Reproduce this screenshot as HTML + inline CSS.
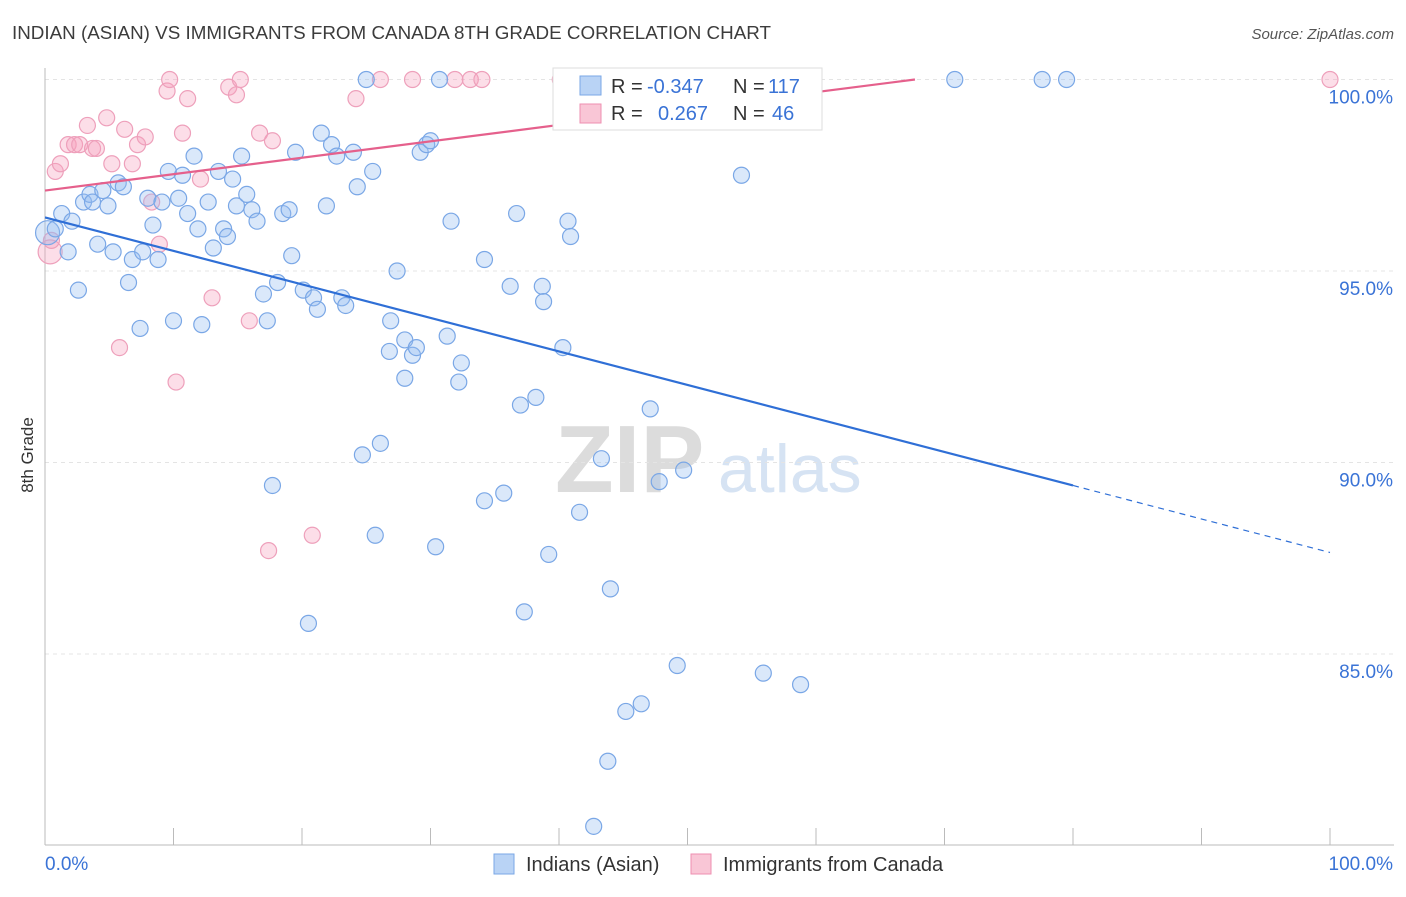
<!DOCTYPE html>
<html><head><meta charset="utf-8">
<style>
body{margin:0;background:#fff;font-family:"Liberation Sans",sans-serif;}
svg text{font-family:"Liberation Sans",sans-serif;}
</style></head>
<body>
<svg id="chart" width="1406" height="892" viewBox="0 0 1406 892" xmlns="http://www.w3.org/2000/svg">
<text x="12" y="39" font-size="18" fill="#3c3c3c" textLength="759" lengthAdjust="spacingAndGlyphs">INDIAN (ASIAN) VS IMMIGRANTS FROM CANADA 8TH GRADE CORRELATION CHART</text>
<text x="1394" y="39" font-size="15" fill="#555" text-anchor="end" font-style="italic">Source: ZipAtlas.com</text>
<g>
<text x="555" y="492" font-size="96" fill="#dcdcdc" font-family="Liberation Serif" font-weight="bold">ZIP</text>
<text x="718" y="492" font-size="68" fill="#d6e3f3">atlas</text>
</g>
<g id="grid"></g>
<g id="axes"></g>
<g id="marks"></g>
<text transform="translate(33,455) rotate(-90)" font-size="17" fill="#333" text-anchor="middle">8th Grade</text>
<g>
<rect x="553" y="68" width="269" height="62" fill="#fff" stroke="#ddd"/>
<rect x="580" y="76" width="21" height="19" fill="#b9d3f5" stroke="#7aa7e6"/>
<rect x="580" y="104" width="21" height="19" fill="#f9c6d6" stroke="#ee8fb0"/>
<text x="611" y="93" font-size="20" fill="#333">R =</text>
<text x="647" y="93" font-size="20" fill="#3a73d6">-0.347</text>
<text x="733" y="93" font-size="20" fill="#333">N =</text>
<text x="768" y="93" font-size="20" fill="#3a73d6">117</text>
<text x="611" y="120" font-size="20" fill="#333">R =</text>
<text x="658" y="120" font-size="20" fill="#3a73d6">0.267</text>
<text x="733" y="120" font-size="20" fill="#333">N =</text>
<text x="772" y="120" font-size="20" fill="#3a73d6">46</text>
</g>
<g>
<rect x="494" y="854" width="20" height="20" fill="#b9d3f5" stroke="#7aa7e6"/>
<text x="526" y="871" font-size="20" fill="#333">Indians (Asian)</text>
<rect x="691" y="854" width="20" height="20" fill="#f9c6d6" stroke="#ee8fb0"/>
<text x="723" y="871" font-size="20" fill="#333">Immigrants from Canada</text>
</g>
</svg>
<script>
const blueX=[0.2,0.8,1.3,1.8,2.1,2.6,3.0,3.5,3.7,4.1,4.5,4.9,5.3,5.7,6.1,6.5,6.8,7.4,7.6,8.0,8.4,8.8,9.1,9.6,10.0,10.4,10.7,11.1,11.6,11.9,12.2,12.7,13.1,13.5,13.9,14.2,14.6,14.9,15.3,15.7,16.1,16.5,17.0,17.3,17.7,18.1,18.5,19.0,19.2,19.5,20.1,20.5,20.9,21.2,21.5,21.9,22.3,22.7,23.1,23.4,24.0,24.3,24.7,25.0,25.5,25.7,26.1,26.9,26.8,27.4,28.0,28.0,28.6,28.9,29.2,29.7,30.0,30.4,30.7,31.3,31.6,32.2,32.4,34.2,34.2,35.7,36.2,36.7,37.0,37.3,38.2,38.7,38.8,39.2,40.3,40.7,40.9,41.6,42.7,43.3,43.8,44.0,45.2,46.4,47.1,47.8,49.2,49.7,54.2,55.9,58.8,70.8,77.6,79.5,40.2,46.6];
const blueY=[96.0,96.1,96.5,95.5,96.3,94.5,96.8,97.0,96.8,95.7,97.1,96.7,95.5,97.3,97.2,94.7,95.3,93.5,95.5,96.9,96.2,95.3,96.8,97.6,93.7,96.9,97.5,96.5,98.0,96.1,93.6,96.8,95.6,97.6,96.1,95.9,97.4,96.7,98.0,97.0,96.6,96.3,94.4,93.7,89.4,94.7,96.5,96.6,95.4,98.1,94.5,85.8,94.3,94.0,98.6,96.7,98.3,98.0,94.3,94.1,98.1,97.2,90.2,100,97.6,88.1,90.5,93.7,92.9,95.0,93.2,92.2,92.8,93.0,98.1,98.3,98.4,87.8,100,93.3,96.3,92.1,92.6,89.0,95.3,89.2,94.6,96.5,91.5,86.1,91.7,94.6,94.2,87.6,93.0,96.3,95.9,88.7,80.5,90.1,82.2,86.7,83.5,83.7,91.4,89.5,84.7,89.8,97.5,84.5,84.2,100,100,100,100,100];
const pinkX=[0.4,0.5,0.8,1.2,1.8,2.3,2.7,3.3,3.7,4.0,4.8,5.2,5.8,6.2,6.8,7.2,7.8,8.3,8.9,9.5,9.7,10.2,10.7,11.1,12.1,13.0,14.3,14.9,15.2,15.9,16.7,17.4,17.7,20.8,24.2,26.1,28.6,31.9,33.1,34.0,40.1,100];
const pinkY=[95.5,95.8,97.6,97.8,98.3,98.3,98.3,98.8,98.2,98.2,99.0,97.8,93.0,98.7,97.8,98.3,98.5,96.8,95.7,99.7,100,92.1,98.6,99.5,97.4,94.3,99.8,99.6,100,93.7,98.6,87.7,98.4,88.1,99.5,100,100,100,100,100,100,100];
const blueTrend=[96.4,89.4]; // y at x=0 and x=80
const pinkTrend=[97.1,100];  // y at x=0 and x=67.7
const yTicks=[100,95,90,85];
const yTickLabels=["100.0%","95.0%","90.0%","85.0%"];
const xLabels=["0.0%","100.0%"];

const NS="http://www.w3.org/2000/svg";
const X=v=>45+v*12.85;
const Y=v=>79.5+(100-v)*38.3;
function mk(tag,attrs,parent){const e=document.createElementNS(NS,tag);for(const k in attrs)e.setAttribute(k,attrs[k]);parent.appendChild(e);return e;}
const grid=document.getElementById('grid'),axes=document.getElementById('axes'),marks=document.getElementById('marks');
yTicks.forEach((t,i)=>{
  const l=mk('line',{x1:45,x2:1394,y1:Y(t),y2:Y(t),stroke:'#e4e4e4','stroke-dasharray':'4,4'},grid);
  
  
  const tx=mk('text',{x:1393,y:Y(t)+24,'font-size':19,fill:'#3a73d6','text-anchor':'end'},axes);
  tx.textContent=yTickLabels[i];
  
  
});
const xa=mk('line',{x1:45,x2:1394,y1:845,y2:845,stroke:'#bbb'},axes);


const ya=mk('line',{x1:45,x2:45,y1:68,y2:845,stroke:'#bbb'},axes);


for(let i=1;i<=10;i++){
  const t=mk('line',{x1:X(i*10),x2:X(i*10),y1:828,y2:845,stroke:'#bbb'},axes);
  
  
}
const xl0=mk('text',{x:45,y:870,'font-size':19,fill:'#3a73d6'},axes);xl0.textContent=xLabels[0];


const xl1=mk('text',{x:1393,y:870,'font-size':19,fill:'#3a73d6','text-anchor':'end'},axes);xl1.textContent=xLabels[1];



pinkX.forEach((x,i)=>{
  const c=mk('circle',{cx:X(x),cy:Y(pinkY[i]),r:i==0?12:8,fill:'rgba(245,160,190,0.35)',stroke:'#eea0bb','stroke-width':1.2},marks);
  
  
});
blueX.forEach((x,i)=>{
  const c=mk('circle',{cx:X(x),cy:Y(blueY[i]),r:i==0?12:8,fill:'rgba(150,190,240,0.35)',stroke:'#7aa7e6','stroke-width':1.2},marks);
  
  
});
const bs=(blueTrend[1]-blueTrend[0])/80;
const b1=mk('line',{x1:X(0),y1:Y(blueTrend[0]),x2:X(80),y2:Y(blueTrend[1]),stroke:'#2f6fd6','stroke-width':2.2},marks);


const b2=mk('line',{x1:X(80),y1:Y(blueTrend[1]),x2:X(100),y2:Y(blueTrend[0]+bs*100),stroke:'#2f6fd6','stroke-width':1.2,'stroke-dasharray':'6,5'},marks);


const p1=mk('line',{x1:X(0),y1:Y(pinkTrend[0]),x2:X(67.7),y2:Y(pinkTrend[1]),stroke:'#e5608c','stroke-width':2.2},marks);


</script>
</body></html>
